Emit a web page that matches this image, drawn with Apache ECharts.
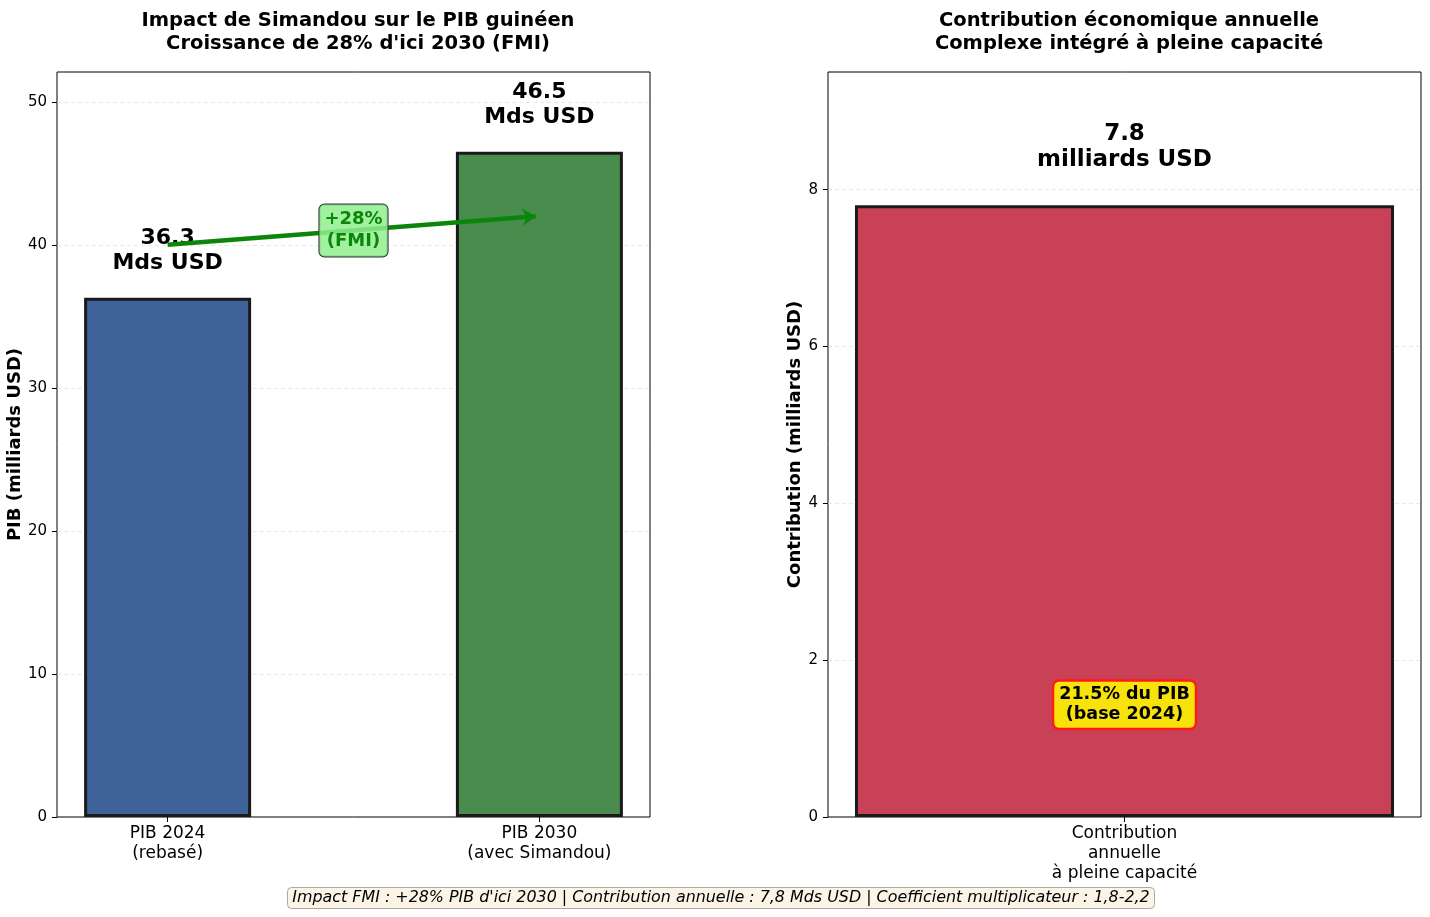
<!DOCTYPE html>
<html>
<head>
<meta charset="utf-8">
<script src="https://cdn.jsdelivr.net/npm/echarts@6/dist/echarts.min.js"></script>
<style>
  html, body { margin: 0; padding: 0; background: #fff; }
  #main { width: 1430px; height: 917px; }
</style>
</head>
<body>
<div id="main"></div>
<script>
var chartDom = document.getElementById('main');
var myChart = echarts.init(chartDom);
var option;

// PIB guinéen (milliards USD)
var pibLabels = ['PIB 2024\n(rebasé)', 'PIB 2030\n(avec Simandou)'];
var pibValues = [36.3, 46.5];
var pibColors = ['#3f6299', '#4a8c4e'];
// flèche de croissance FMI (x, y)
var arrowPoints = [[0, 40], [0.99, 42]];
var arrowLabelPoint = [0.5, 41];
// contribution annuelle (milliards USD)
var contribLabels = ['Contribution\nannuelle\nà pleine capacité'];
var contribValues = [7.8];
var shareLabelPoint = [0, 1.43];

var font = 'DejaVu Sans';

function splitLineStyle() {
    return {
        show: true, showMinLine: false, showMaxLine: false,
        lineStyle: { type: [4, 3], color: '#e3e3e3', width: 0.8 }
    };
}

option = {
    animation: false,
    textStyle: { fontFamily: font },
    title: [
        {
            text: "Impact de Simandou sur le PIB guinéen\nCroissance de 28% d'ici 2030 (FMI)",
            left: 353, top: 4, textAlign: 'center',
            textStyle: { fontSize: 19.5, fontWeight: 'bold', lineHeight: 23, color: '#000', fontFamily: font }
        },
        {
            text: 'Contribution économique annuelle\nComplexe intégré à pleine capacité',
            left: 1124, top: 4, textAlign: 'center',
            textStyle: { fontSize: 19.5, fontWeight: 'bold', lineHeight: 23, color: '#000', fontFamily: font }
        },
        {
            text: "Impact FMI : +28% PIB d'ici 2030 | Contribution annuelle : 7,8 Mds USD | Coefficient multiplicateur : 1,8-2,2",
            left: 716, top: 887, textAlign: 'center',
            backgroundColor: '#fcf4e6', borderColor: '#b0a898', borderWidth: 1, borderRadius: 4,
            padding: [3, 5],
            textStyle: { fontSize: 15.9, fontStyle: 'italic', fontWeight: 'normal', color: '#000', fontFamily: font }
        }
    ],
    grid: [
        { left: 57, right: 780, top: 72, bottom: 100, show: true, borderColor: '#000', borderWidth: 1 },
        { left: 828, right: 9, top: 72, bottom: 100, show: true, borderColor: '#000', borderWidth: 1 }
    ],
    xAxis: [
        {
            type: 'value', gridIndex: 0, min: -0.2975, max: 1.2975,
            splitLine: { show: false },
            axisLine: { show: false, onZero: false },
            axisTick: { show: true, customValues: [0, 1], length: 5, lineStyle: { color: '#000' } },
            axisLabel: {
                customValues: [0, 1],
                formatter: function (v) { return pibLabels[Math.round(v)]; },
                fontSize: 17, color: '#000', lineHeight: 20, margin: 7, fontFamily: font
            }
        },
        {
            type: 'category', gridIndex: 1, data: contribLabels,
            axisLine: { show: false, onZero: false },
            axisTick: { show: true, alignWithLabel: true, length: 5, lineStyle: { color: '#000' } },
            axisLabel: { fontSize: 17, color: '#000', lineHeight: 20, margin: 7, fontFamily: font }
        }
    ],
    yAxis: [
        {
            type: 'value', gridIndex: 0, min: 0, max: 52.08, interval: 10,
            name: 'PIB (milliards USD)', nameLocation: 'middle', nameGap: 30,
            nameTextStyle: { fontSize: 18, fontWeight: 'bold', color: '#000', fontFamily: font },
            axisLine: { show: false, onZero: false },
            axisTick: { show: true, length: 5, lineStyle: { color: '#000' } },
            axisLabel: { fontSize: 15, color: '#000', margin: 10, fontFamily: font, showMaxLabel: false },
            splitLine: splitLineStyle()
        },
        {
            type: 'value', gridIndex: 1, min: 0, max: 9.5, interval: 2,
            name: 'Contribution (milliards USD)', nameLocation: 'middle', nameGap: 22,
            nameTextStyle: { fontSize: 18, fontWeight: 'bold', color: '#000', fontFamily: font },
            axisLine: { show: false, onZero: false },
            axisTick: { show: true, length: 5, lineStyle: { color: '#000' } },
            axisLabel: { fontSize: 15, color: '#000', margin: 10, fontFamily: font, showMaxLabel: false },
            splitLine: splitLineStyle()
        }
    ],
    series: [
        {
            type: 'bar', xAxisIndex: 0, yAxisIndex: 0,
            barWidth: 167,
            data: pibValues.map(function (v, i) {
                return {
                    value: [i, v],
                    itemStyle: { color: pibColors[i], borderColor: '#1a1a1a', borderWidth: 3 }
                };
            }),
            label: {
                show: true, position: 'top', distance: 22,
                formatter: function (p) { return p.value[1].toFixed(1) + '\nMds USD'; },
                fontSize: 22, fontWeight: 'bold', color: '#000', lineHeight: 25, fontFamily: font
            },
            z: 2
        },
        {
            type: 'line', xAxisIndex: 0, yAxisIndex: 0,
            data: [],
            markLine: {
                silent: true,
                symbol: ['none', 'arrow'], symbolSize: 13,
                label: { show: false },
                lineStyle: { color: '#0a870a', width: 4.5, type: 'solid' },
                data: [[{ coord: arrowPoints[0] }, { coord: arrowPoints[1] }]]
            },
            z: 5
        },
        {
            type: 'scatter', xAxisIndex: 0, yAxisIndex: 0,
            data: [arrowLabelPoint],
            symbolSize: 0,
            itemStyle: { opacity: 1 },
            label: {
                show: true, position: 'inside',
                formatter: '+28%\n(FMI)',
                fontSize: 18, fontWeight: 'bold', color: '#0a870a', lineHeight: 22, fontFamily: font,
                backgroundColor: 'rgba(144,238,144,0.85)', borderColor: '#333', borderWidth: 1,
                borderRadius: 5, padding: [4, 5]
            },
            z: 6
        },
        {
            type: 'bar', xAxisIndex: 1, yAxisIndex: 1,
            barWidth: '90.9%',
            data: contribValues,
            itemStyle: { color: '#c94157', borderColor: '#1a1a1a', borderWidth: 3 },
            label: {
                show: true, position: 'top', distance: 32,
                formatter: function (p) { return p.value.toFixed(1) + '\nmilliards USD'; },
                fontSize: 23, fontWeight: 'bold', color: '#000', lineHeight: 26, fontFamily: font
            },
            z: 2
        },
        {
            type: 'scatter', xAxisIndex: 1, yAxisIndex: 1,
            data: [shareLabelPoint],
            symbolSize: 0,
            itemStyle: { opacity: 1 },
            label: {
                show: true, position: 'inside',
                formatter: '21.5% du PIB\n(base 2024)',
                fontSize: 17.5, fontWeight: 'bold', color: '#000', lineHeight: 20, fontFamily: font,
                backgroundColor: '#f7e20a', borderColor: '#ff1a1a', borderWidth: 2.5,
                borderRadius: 5, padding: [3, 5]
            },
            z: 6
        }
    ]
};

option && myChart.setOption(option);
</script>
</body>
</html>
